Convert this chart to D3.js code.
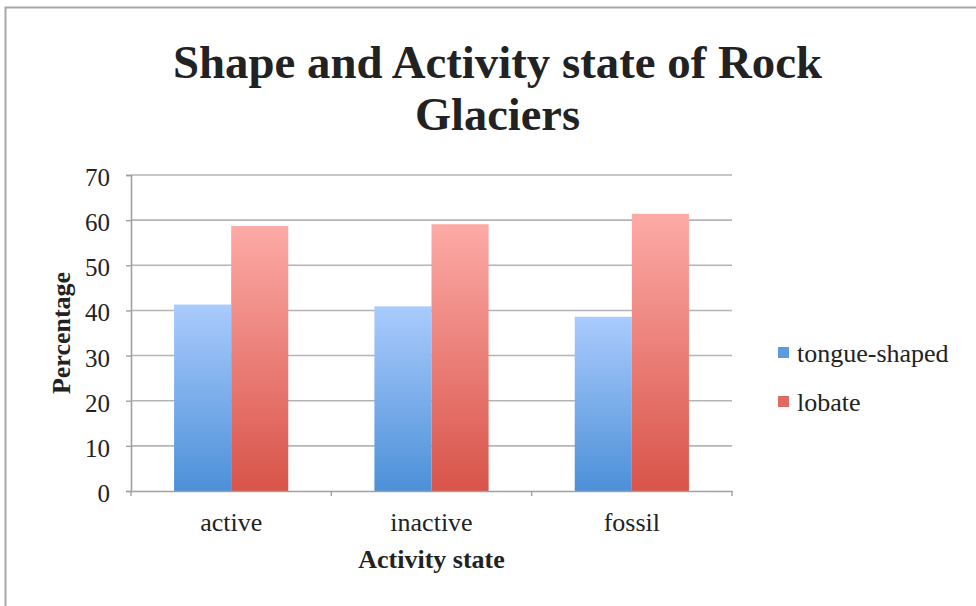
<!DOCTYPE html>
<html>
<head>
<meta charset="utf-8">
<script src="https://cdn.jsdelivr.net/npm/d3@7"></script>
<style>
  html, body { margin: 0; padding: 0; background: #fff; }
  svg { display: block; }
  text { font-family: "Liberation Serif", "DejaVu Serif", serif; fill: #222; }
</style>
</head>
<body>
<svg id="chart" width="976" height="606"></svg>
<script>
// Share of rock glacier shapes per activity state (%)
const categories = ["active", "inactive", "fossil"];
const seriesNames = ["tongue-shaped", "lobate"];
const tongueShaped = [41.3, 40.9, 38.6];
const lobate = [58.7, 59.1, 61.4];
const yTicks = [0, 10, 20, 30, 40, 50, 60, 70];

const svg = d3.select("#chart");
const W = 976, H = 606;
const margin = { left: 131, right: 244, top: 175, bottom: 115 };
const plotW = W - margin.left - margin.right;
const plotH = H - margin.top - margin.bottom;

// gradients for the bar fills
const defs = svg.append("defs");
const grads = [
  { id: "gBlue", top: "#aacbfd", bottom: "#4c90d8" },
  { id: "gRed", top: "#fdaaa6", bottom: "#d8544a" }
];
grads.forEach(g => {
  const lg = defs.append("linearGradient").attr("id", g.id)
    .attr("x1", 0).attr("y1", 0).attr("x2", 0).attr("y2", 1);
  lg.append("stop").attr("offset", "0%").attr("stop-color", g.top);
  lg.append("stop").attr("offset", "100%").attr("stop-color", g.bottom);
});
const fills = ["url(#gBlue)", "url(#gRed)"];
const legendFills = ["#5b9be0", "#e06a62"];

// outer frame
svg.append("rect")
  .attr("x", 5.5).attr("y", 7.5).attr("width", W + 10).attr("height", H + 10)
  .attr("fill", "none").attr("stroke", "#a8a8a8").attr("stroke-width", 2);

// title
const title = svg.append("text")
  .attr("text-anchor", "middle")
  .attr("font-weight", "bold").attr("font-size", 47);
title.append("tspan").attr("x", 497.5).attr("y", 78)
  .attr("textLength", 649).attr("lengthAdjust", "spacingAndGlyphs")
  .text("Shape and Activity state of Rock");
title.append("tspan").attr("x", 497.5).attr("y", 130)
  .attr("textLength", 165).attr("lengthAdjust", "spacingAndGlyphs")
  .text("Glaciers");

const g = svg.append("g").attr("transform", `translate(${margin.left},${margin.top})`);

const y = d3.scaleLinear().domain([0, 70]).range([plotH, 0]);
const x0 = d3.scaleBand().domain(categories).range([0, plotW]).padding(0);
const groupW = x0.bandwidth() * 0.57;
const x1 = d3.scaleBand().domain(seriesNames).range([0, groupW]).padding(0);

// gridlines
g.append("g").selectAll("line").data(yTicks.filter(d => d > 0)).join("line")
  .attr("x1", 0).attr("x2", plotW)
  .attr("y1", d => y(d)).attr("y2", d => y(d))
  .attr("stroke", "#b4b4b4").attr("stroke-width", 1.6);

// bars
const rows = categories.map((c, i) => ({ c, vals: [tongueShaped[i], lobate[i]] }));
const grp = g.append("g").selectAll("g").data(rows).join("g")
  .attr("transform", d => `translate(${x0(d.c) + (x0.bandwidth() - groupW) / 2},0)`);
grp.selectAll("rect").data(d => d.vals.map((v, k) => ({ s: seriesNames[k], v, k }))).join("rect")
  .attr("x", d => x1(d.s))
  .attr("y", d => y(d.v))
  .attr("width", x1.bandwidth())
  .attr("height", d => plotH - y(d.v))
  .attr("fill", d => fills[d.k]);

// y axis
const yAxis = g.append("g").call(
  d3.axisLeft(y).tickValues(yTicks).tickSize(5).tickPadding(16).tickFormat(d3.format("d"))
);
yAxis.select(".domain").attr("stroke", "#a0a0a0").attr("stroke-width", 1.6);
yAxis.selectAll(".tick line").attr("stroke", "#a0a0a0").attr("stroke-width", 1.4);
yAxis.selectAll(".tick text").attr("font-size", 25).attr("fill", "#222")
  .attr("font-family", "Liberation Serif, serif").attr("dy", "0.42em");

// x axis
const xAxis = g.append("g").attr("transform", `translate(0,${plotH})`)
  .call(d3.axisBottom(x0).tickSize(0).tickPadding(22));
xAxis.select(".domain").attr("stroke", "#a0a0a0").attr("stroke-width", 1.6);
xAxis.selectAll(".tick text").attr("font-size", 26).attr("fill", "#222")
  .attr("font-family", "Liberation Serif, serif");
// category boundary ticks
xAxis.append("g").selectAll("line")
  .data(d3.range(categories.length + 1)).join("line")
  .attr("x1", i => i * x0.step()).attr("x2", i => i * x0.step())
  .attr("y1", 0).attr("y2", 5)
  .attr("stroke", "#a0a0a0").attr("stroke-width", 1.4);

// axis titles
svg.append("text")
  .attr("x", margin.left + plotW / 2).attr("y", 568)
  .attr("text-anchor", "middle").attr("font-weight", "bold").attr("font-size", 26)
  .text("Activity state");
svg.append("text")
  .attr("transform", `translate(70,${margin.top + plotH / 2}) rotate(-90)`)
  .attr("text-anchor", "middle").attr("font-weight", "bold").attr("font-size", 26)
  .text("Percentage");

// legend
const legend = svg.append("g").attr("transform", "translate(778,347)");
seriesNames.forEach((name, k) => {
  const row = legend.append("g").attr("transform", `translate(0,${k * 49})`);
  row.append("rect").attr("x", 0).attr("y", 0).attr("width", 11).attr("height", 11)
    .attr("fill", legendFills[k]);
  row.append("text").attr("x", 19).attr("y", 15).attr("font-size", 26).text(name);
});
</script>
</body>
</html>
